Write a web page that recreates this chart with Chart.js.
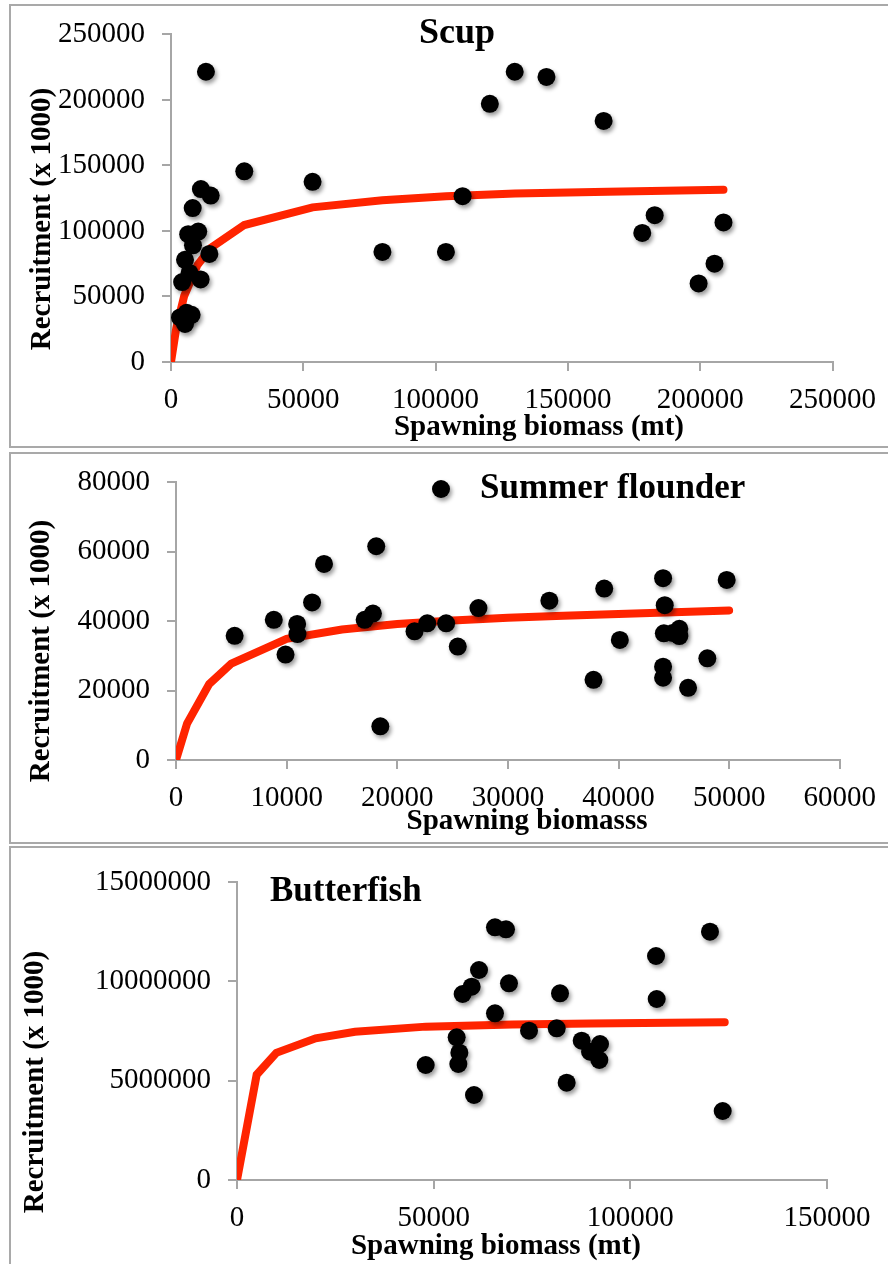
<!DOCTYPE html>
<html>
<head>
<meta charset="utf-8">
<script src="https://cdn.jsdelivr.net/npm/chart.js@4.4.1/dist/chart.umd.min.js"></script>
<style>
  html, body { margin: 0; padding: 0; background: #fff; }
  body { width: 888px; height: 1264px; position: relative; overflow: hidden; }
  .panel { position: absolute; left: 9px; width: 900px; border: 2px solid #a9a9a9; box-sizing: border-box; }
  canvas { position: absolute; left: 0; }
</style>
</head>
<body>
<div class="panel" style="top:4px;height:444px"></div>
<div class="panel" style="top:452px;height:392px"></div>
<div class="panel" style="top:846px;height:430px"></div>

<canvas id="scupChart" width="888" height="448" style="top:0px"></canvas>
<canvas id="flounderChart" width="888" height="397" style="top:448px"></canvas>
<canvas id="butterfishChart" width="888" height="419" style="top:845px"></canvas>

<script>
// Scup: spawning biomass (mt) vs recruitment (x 1000)
const scupSSB = [13200, 27700, 53500, 79900, 103900, 11300, 15000, 8200, 6500, 10300,
    8300, 14500, 5300, 4200, 11200, 7000, 3400, 5900, 7800, 5300,
    129900, 141900, 120500, 163500, 110200, 182800, 178100, 208800, 205400, 199400];
const scupRec = [221500, 145500, 137500, 84000, 84000, 132000, 127000, 117500, 97500, 99500,
    89000, 82500, 78000, 61000, 63000, 68000, 34000, 37500, 36000, 29000,
    221500, 217500, 197000, 184000, 126500, 112000, 98500, 106500, 75000, 60000];
const scupFitSSB = [0, 2000, 5000, 10000, 15000, 27700, 53500, 79900, 104000, 130000, 165000, 208800];
const scupFitRec = [0, 26000, 50500, 74000, 87000, 104500, 118000, 123500, 126500, 128500, 130000, 131500];

// Summer flounder
const flounderSSB = [5300, 8840, 9900, 10950, 10980, 12300, 13380, 18100, 17050, 17800,
    18470, 21560, 22710, 24420, 25470, 27340, 33750, 38710, 37740, 40120,
    44030, 44180, 44100, 44900, 45500, 45500, 44030, 44030, 48030, 46290, 49780];
const flounderRec = [35800, 40400, 30400, 39200, 36300, 45400, 56500, 61600, 40400, 42200,
    9700, 37100, 39400, 39400, 32700, 43800, 45900, 49400, 23100, 34600,
    52400, 44600, 36500, 36600, 37800, 35700, 26900, 23700, 29300, 20800, 51900];
const flounderFitSSB = [0, 1000, 3000, 5000, 10000, 15000, 20000, 25000, 30000, 35000, 40000, 45000, 50000];
const flounderFitRec = [0, 10500, 21900, 27800, 34900, 37600, 39200, 40200, 41000, 41600, 42100, 42600, 43100];

// Butterfish
const butterSSB = [65590, 68390, 61530, 59660, 57370, 69150, 65590, 82120, 55850, 56530,
    56270, 47970, 60250, 74240, 81280, 87630, 92290, 89750, 92120, 83810,
    120250, 106530, 106700, 123480];
const butterRec = [12718000, 12617000, 10570000, 9730000, 9362000, 9899000, 8390000, 9396000, 7181000, 6409000,
    5839000, 5789000, 4279000, 7517000, 7634000, 7013000, 6846000, 6460000, 6040000, 4900000,
    12500000, 11275000, 9111000, 3473000];
const butterFitSSB = [0, 5000, 10000, 20000, 30000, 48000, 70000, 90000, 110000, 124000];
const butterFitRec = [0, 5300000, 6400000, 7130000, 7460000, 7720000, 7830000, 7880000, 7920000, 7940000];

const SERIF = "'Liberation Serif', 'Times New Roman', serif";
const axisGray = '#a6a6a6';
const fitRed = '#ff2400';

function toPoints(xs, ys) {
    return xs.map((x, i) => ({ x: x, y: ys[i] }));
}

// Soft drop shadow under the scatter dots only
const dotShadow = {
    id: 'dotShadow',
    beforeDatasetDraw(chart, args) {
        if (chart.data.datasets[args.index].showLine) return;
        const ctx = chart.ctx;
        ctx.save();
        ctx.shadowColor = 'rgba(0, 0, 0, 0.4)';
        ctx.shadowBlur = 4;
        ctx.shadowOffsetX = 2;
        ctx.shadowOffsetY = 3;
    },
    afterDatasetDraw(chart, args) {
        if (chart.data.datasets[args.index].showLine) return;
        chart.ctx.restore();
    }
};

// Axis titles, panel titles and the legend entry
const panelText = {
    id: 'panelText',
    afterDraw(chart, args, opts) {
        const ctx = chart.ctx;
        (opts.items || []).forEach(item => {
            ctx.save();
            ctx.fillStyle = '#000';
            ctx.font = item.font;
            ctx.textAlign = item.align || 'center';
            ctx.textBaseline = 'middle';
            ctx.translate(item.x, item.y);
            if (item.rotate) ctx.rotate(item.rotate);
            if (item.dot) {
                ctx.shadowColor = 'rgba(0, 0, 0, 0.4)';
                ctx.shadowBlur = 4;
                ctx.shadowOffsetX = 2;
                ctx.shadowOffsetY = 3;
                ctx.beginPath();
                ctx.arc(0, 0, 9, 0, Math.PI * 2);
                ctx.fill();
            } else {
                ctx.fillText(item.text, 0, 0);
            }
            ctx.restore();
        });
    }
};

function buildChart(canvasId, cfg) {
    const tickFont = { family: SERIF, size: 29 };
    return new Chart(document.getElementById(canvasId), {
        type: 'scatter',
        data: {
            datasets: [
                {
                    label: 'fit',
                    data: toPoints(cfg.fitX, cfg.fitY),
                    showLine: true,
                    borderColor: fitRed,
                    borderWidth: 8,
                    borderCapStyle: 'round',
                    borderJoinStyle: 'miter',
                    pointRadius: 0,
                    tension: 0,
                    order: 2
                },
                {
                    label: cfg.name,
                    data: toPoints(cfg.x, cfg.y),
                    pointRadius: 9,
                    pointBackgroundColor: '#000',
                    pointBorderWidth: 0,
                    order: 1
                }
            ]
        },
        options: {
            responsive: false,
            animation: false,
            layout: { padding: { top: cfg.padTop, right: cfg.padRight, left: 0, bottom: 0 } },
            plugins: {
                legend: { display: false },
                tooltip: { enabled: false },
                panelText: { items: cfg.texts }
            },
            scales: {
                x: {
                    type: 'linear',
                    min: 0,
                    max: cfg.xMax,
                    afterFit: s => { s.height = cfg.xHeight; },
                    border: { display: true, color: axisGray, width: 2 },
                    grid: { drawOnChartArea: false, drawTicks: true, tickLength: 9, color: axisGray, lineWidth: 2 },
                    ticks: {
                        stepSize: cfg.xStep, padding: 12, color: '#000', font: tickFont,
                        maxRotation: 0, autoSkip: false, callback: v => String(v)
                    }
                },
                y: {
                    type: 'linear',
                    min: 0,
                    max: cfg.yMax,
                    afterFit: s => { s.width = cfg.yWidth; },
                    border: { display: true, color: axisGray, width: 2 },
                    grid: { drawOnChartArea: false, drawTicks: true, tickLength: 9, color: axisGray, lineWidth: 2 },
                    ticks: {
                        stepSize: cfg.yStep, padding: 17, color: '#000', font: tickFont,
                        autoSkip: false, callback: v => String(v)
                    }
                }
            }
        },
        plugins: [dotShadow, panelText]
    });
}

const titleFont = 'bold 35px ' + SERIF;
const axisTitleFont = 'bold 29px ' + SERIF;

buildChart('scupChart', {
    name: 'Scup',
    x: scupSSB, y: scupRec, fitX: scupFitSSB, fitY: scupFitRec,
    xMax: 250000, xStep: 50000, yMax: 250000, yStep: 50000,
    yWidth: 171, xHeight: 86, padTop: 30, padRight: 55,
    texts: [
        { text: 'Scup', x: 457, y: 34, font: 'bold 36px ' + SERIF },
        { text: 'Recruitment (x 1000)', x: 43, y: 219, font: axisTitleFont, rotate: -Math.PI / 2 },
        { text: 'Spawning biomass (mt)', x: 539, y: 428, font: axisTitleFont }
    ]
});

buildChart('flounderChart', {
    name: 'Summer flounder',
    x: flounderSSB, y: flounderRec, fitX: flounderFitSSB, fitY: flounderFitRec,
    xMax: 60000, xStep: 10000, yMax: 80000, yStep: 20000,
    yWidth: 176, xHeight: 85, padTop: 23, padRight: 47,
    texts: [
        { dot: true, x: 441, y: 41 },
        { text: 'Summer flounder', x: 480, y: 41, font: titleFont, align: 'left' },
        { text: 'Recruitment (x 1000)', x: 42, y: 203, font: axisTitleFont, rotate: -Math.PI / 2 },
        { text: 'Spawning biomasss', x: 527, y: 374, font: axisTitleFont }
    ]
});

buildChart('butterfishChart', {
    name: 'Butterfish',
    x: butterSSB, y: butterRec, fitX: butterFitSSB, fitY: butterFitRec,
    xMax: 150000, xStep: 50000, yMax: 15000000, yStep: 5000000,
    yWidth: 237, xHeight: 84, padTop: 37, padRight: 61,
    texts: [
        { text: 'Butterfish', x: 270, y: 47, font: titleFont, align: 'left' },
        { text: 'Recruitment (x 1000)', x: 36, y: 237, font: axisTitleFont, rotate: -Math.PI / 2 },
        { text: 'Spawning biomass (mt)', x: 496, y: 402, font: axisTitleFont }
    ]
});
</script>
</body>
</html>
